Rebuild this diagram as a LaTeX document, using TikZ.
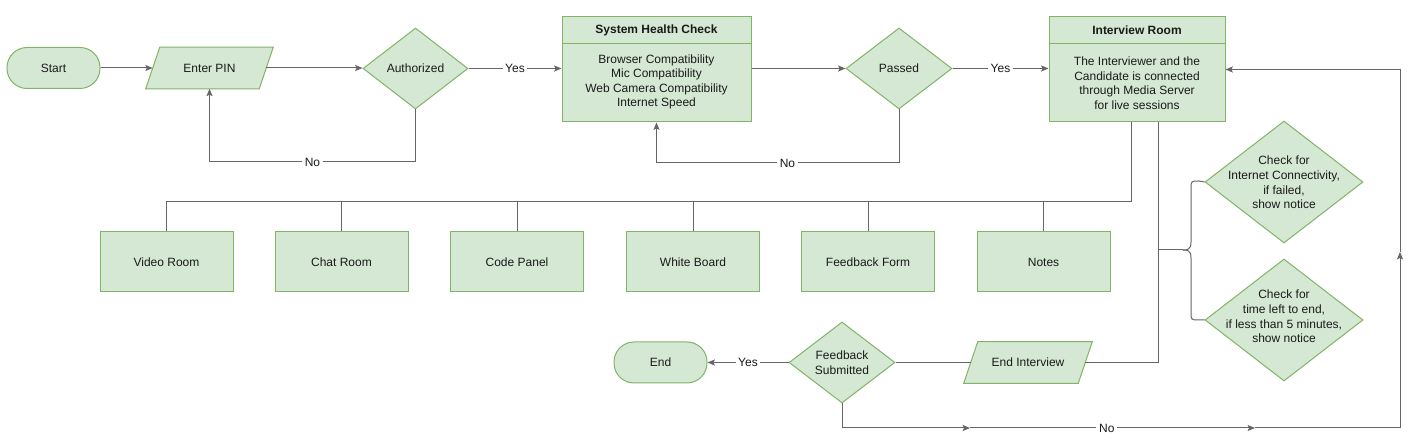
\documentclass[tikz,border=0pt]{standalone}
\usepackage{fontspec}
\setmainfont{Liberation Sans}
\usetikzlibrary{shapes.geometric,arrows.meta,calc,backgrounds}
\definecolor{gfill}{HTML}{D5E8D4}
\definecolor{gdraw}{HTML}{82B366}
\definecolor{lcol}{HTML}{666666}
\definecolor{tcol}{HTML}{1A1A1A}
\begin{document}
\begin{tikzpicture}[x=0.75pt,y=-0.75pt,
  every node/.style={font=\fontsize{9}{10.9}\selectfont, text=tcol},
  base/.style={draw=gdraw, fill=gfill, line width=0.75pt, inner sep=0pt},
  term/.style={base, rectangle, rounded corners=15pt, minimum width=69.75pt, minimum height=30.75pt},
  io/.style={rectangle, inner sep=0pt, minimum width=95.25pt, minimum height=30.75pt},
  para/.style={draw=gdraw, fill=gfill, line width=0.75pt},
  dec/.style={base, diamond, minimum width=79.5pt, minimum height=60.75pt},
  bigdec/.style={base, diamond, minimum width=118.5pt, minimum height=91.5pt},
  panel/.style={base, rectangle, minimum width=141.75pt, minimum height=78.75pt},
  mod/.style={base, rectangle, minimum width=99.75pt, minimum height=45pt},
  txt/.style={align=center, inner sep=0pt},
  line/.style={draw=lcol, line width=0.75pt},
  arr/.style={line, -{Stealth[length=5.5pt,width=4.5pt,inset=1pt]}},
  lbl/.style={fill=white, inner sep=2pt}
]
\useasboundingbox (0,0) rectangle (1411,448);

% top row
\node[term] (start) at (53.5,68) {Start};
\node[io] (pin) at (209.5,68) {Enter PIN};
\node[dec, minimum width=78.75pt] (auth) at (415.5,68.5) {Authorized};
\node[panel] (shc) at (656.5,69.5) {};
\draw[draw=gdraw, line width=0.75pt] (shc.west |- 0,44) -- (shc.east |- 0,44);
\node[txt, font=\fontsize{9}{10.9}\bfseries] (shch) at (656.5,30.5) {System Health Check};
\node[txt] (shcb) at (656.5,82) {Browser Compatibility\\Mic Compatibility\\Web Camera Compatibility\\Internet Speed};
\node[dec] (pass) at (899,68.5) {Passed};
\node[panel, minimum width=132pt] (ir) at (1137,69.5) {};
\draw[draw=gdraw, line width=0.75pt] (ir.west |- 0,44) -- (ir.east |- 0,44);
\node[txt, font=\fontsize{9}{10.9}\bfseries] (irh) at (1137,30.5) {Interview Room};
\node[txt] (irb) at (1137,83) {The Interviewer and the\\Candidate is connected\\through Media Server\\for live sessions};

% modules
\node[mod] (vr) at (166.5,262) {Video Room};
\node[mod] (cr) at (341.5,262) {Chat Room};
\node[mod] (cp) at (517,262) {Code Panel};
\node[mod] (wb) at (693,262) {White Board};
\node[mod] (ff) at (868,262) {Feedback Form};
\node[mod] (nt) at (1043.5,262) {Notes};

% checks
\node[bigdec] (c1) at (1284,182) {};
\node[txt] (c1t) at (1284,182.5) {Check for\\Internet Connectivity,\\if failed,\\show notice};
\node[bigdec] (c2) at (1284,320) {};
\node[txt] (c2t) at (1284,316.5) {Check for\\time left to end,\\if less than 5 minutes,\\show notice};

% bottom row
\node[term] (end) at (660.5,362.5) {End};
\node[dec, align=center] (fb) at (842,362.5) {Feedback\\Submitted};
\node[io, minimum width=96pt] (ei) at (1028,362.5) {End Interview};

% parallelogram outlines
\begin{scope}[on background layer]
\draw[para] (pin.south west) -- ($(pin.north west)+(14,0)$) -- (pin.north east) -- ($(pin.south east)+(-14,0)$) -- cycle;
\draw[para] (ei.south west) -- ($(ei.north west)+(14,0)$) -- (ei.north east) -- ($(ei.south east)+(-14,0)$) -- cycle;
\end{scope}

% connectors top row
\draw[arr] (start) -- ($(pin.west)+(7,0)$);
\draw[arr] ($(pin.east)+(-7,0)$) -- (pin -| auth.west);
\draw[arr] (auth.east) -- node[lbl]{Yes} (auth -| shc.west);
\draw[arr] (shc.east |- pass) -- (pass);
\draw[arr] (pass) -- node[lbl]{Yes} (ir.west |- pass);
\draw[arr] (auth.south) -- ++(0,52.5) -| node[lbl, pos=0.25]{No} (pin.south);
\draw[arr] (pass.south) -- ++(0,53.5) -| node[lbl, pos=0.23]{No} (shc.south);

% bus to modules
\coordinate (irA) at (1131,122);
\coordinate (bus) at (1131,202);
\draw[line] (irA) -- (bus) -| (vr.north);
\foreach \m in {cr,cp,wb,ff,nt} \draw[line] (\m.north |- bus) -- (\m.north);

% second line from interview room
\coordinate (irB) at (1158,122);
\draw[line] (irB) |- ($(ei.east)+(-7,0)$);
\draw[line] ($(ei.west)+(7,0)$) -- (fb.east);
\draw[arr] (fb.west) -- node[lbl]{Yes} (end.east);

% brace
\coordinate (bc) at (1158,250);
\draw[line] (bc) -- (1183,250);
\draw[line] (c1.west) -- (1199,181) .. controls (1191,181) .. (1191,189) -- (1191,242) .. controls (1191,250) and (1187,250) .. (1183,250);
\draw[line] (c2.west) -- (1199,320) .. controls (1191,320) .. (1191,312) -- (1191,258) .. controls (1191,250) and (1187,250) .. (1183,250);

% No loop back
\coordinate (n1) at (970,428);
\coordinate (n2) at (1255,428);
\coordinate (n3) at (1400,252);
\draw[arr] (fb.south) |- (n1);
\draw[arr] (n1) -- node[lbl, pos=0.48]{No} (n2);
\draw[arr] (n2) -| (n3);
\draw[arr] (n3) |- (ir.east);
\end{tikzpicture}
\end{document}
